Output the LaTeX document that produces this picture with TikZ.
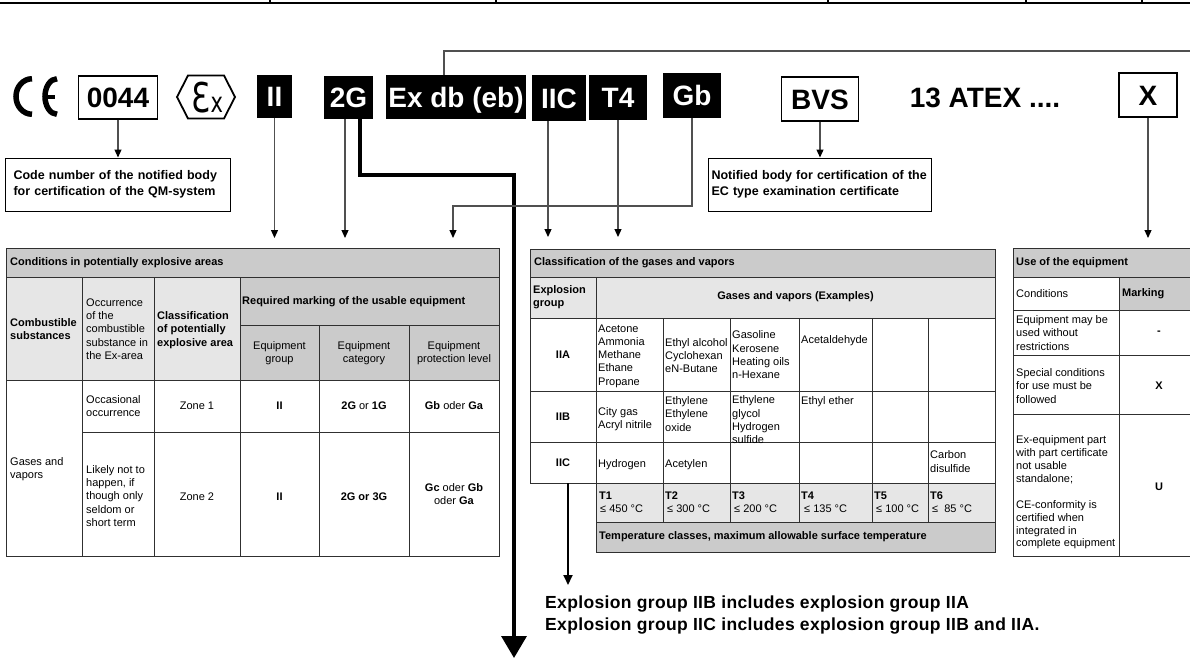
\documentclass[tikz,border=0pt]{standalone}
\usepackage{fontspec}
\setmainfont{Liberation Sans}
\newfontfamily\dejavu{DejaVu Sans}
\newfontfamily\widefont[LetterSpace=2]{Liberation Sans}
\usepackage{graphicx}
\usetikzlibrary{arrows.meta}
\definecolor{hdr}{HTML}{CBCBCB}
\definecolor{lgt}{HTML}{E6E6E6}
\definecolor{bord}{HTML}{303030}
\definecolor{lnk}{HTML}{505050}
\newcommand\tf{\fontsize{11}{13.3}\selectfont}
\newcommand\mf{\fontsize{28}{28}\selectfont\bfseries}
\begin{document}
\begin{tikzpicture}[x=1pt,y=-1pt,
  blk/.style={fill=black,text=white,inner sep=0,font=\mf,text height=20pt,text depth=0pt},
  wbx/.style={draw=black,line width=1.2pt,fill=white,inner sep=0,font=\mf,text height=20pt,text depth=0pt},
  conn/.style={draw=lnk,line width=1.2pt},
  arr/.style={conn,-{Triangle[length=8pt,width=7pt,color=black]}},
  grid/.style={draw=bord,line width=0.9pt},
  cl/.style={anchor=west,align=left,inner sep=0,font=\tf},
  cc/.style={align=center,inner sep=0,font=\tf},
  notebox/.style={draw=black,line width=1pt,minimum height=53pt,inner ysep=0,align=left,font=\fontsize{12.5}{16}\selectfont\bfseries}]
\useasboundingbox (0,0) rectangle (1190,659);
\fill[white] (0,0) rectangle (1190,659);

% top strip
\draw[black,line width=2.2pt] (0,3.2) -- (1190,3.2);
\foreach \xx in {270,496,828,1026,1142} \draw[black,line width=1.6pt] (\xx,0) -- (\xx,3.2);

% CE mark
\draw[line width=5.5pt] (32,114.25) arc[start angle=90,end angle=270,x radius=16,y radius=17.75];
\draw[line width=5.5pt] (57,114.25) arc[start angle=90,end angle=270,x radius=12,y radius=17.75];
\draw[line width=4pt] (46,96.5) -- (55,96.5);

% Ex hexagon
\draw[line width=1.8pt,line join=miter] (177,97) -- (188,75.5) -- (224,75.5) -- (235,97) -- (224,118.5) -- (188,118.5) -- cycle;
\node[inner sep=0] (exs) at (207.5,97.6) {\dejavu\scalebox{0.75}[1]{\fontsize{41}{41}\selectfont Ɛ\fontsize{28}{28}\selectfont x}};

% marking labels
\node[wbx,minimum width=79pt,minimum height=43pt] (n0044) at (118,97.5) {0044};
\node[blk,minimum width=35pt,minimum height=43pt] (nII) at (274.5,96.5) {II};
\node[blk,minimum width=49pt,minimum height=43pt] (n2G) at (348.5,97.5) {2G};
\node[blk,minimum width=140pt,minimum height=44pt] (nEx) at (456,97) {Ex db (eb)};
\node[blk,minimum width=54pt,minimum height=46pt] (nIIC) at (559,98) {IIC};
\node[blk,minimum width=58pt,minimum height=45pt] (nT4) at (618,97.5) {T4};
\node[blk,minimum width=58pt,minimum height=45pt] (nGb) at (692,95.5) {Gb};
\node[wbx,minimum width=77pt,minimum height=44pt] (nBVS) at (820,99) {BVS};
\node[inner sep=0,font=\mf,text height=20pt,text depth=0pt] (nATEX) at (985,97) {13 ATEX ....};
\node[wbx,minimum width=58pt,minimum height=44pt] (nX) at (1148,95) {X};

% note boxes
\node[notebox,text width=209pt,inner xsep=8pt] (code) at (118,184.5) {Code number of the notified body\\for certification of the QM-system};
\node[notebox,text width=217pt,inner xsep=3pt] (nb) at (820,184.5) {Notified body for certification of the\\EC type examination certificate};

% ---------- left table ----------
\fill[hdr] (6,248) rectangle (499,277);
\fill[lgt] (6,277) rectangle (240,380);
\fill[hdr] (240,277) rectangle (499,380);
\draw[grid] (6,248) rectangle (499,556);
\draw[grid] (6,277) -- (499,277) (240,325) -- (499,325) (6,380) -- (499,380) (82,432) -- (499,432);
\draw[grid] (82,277) -- (82,556) (154,277) -- (154,556) (240,277) -- (240,556) (319,325) -- (319,556) (409,325) -- (409,556);

\node[cl,font=\tf\bfseries] (L0) at (10,263) {Conditions in potentially explosive areas};
\node[cl,font=\tf\bfseries] (L1) at (10,329) {Combustible\\substances};
\node[cl] (L2) at (86,329) {Occurrence\\of the\\combustible\\substance in\\the Ex-area};
\node[cl,font=\tf\bfseries] (L3) at (157,330) {Classification\\of potentially\\explosive area};
\node[cl,font=\tf\bfseries] (L4) at (242,302) {Required marking of the usable equipment};
\node[cc] (L5) at (279.5,353) {Equipment\\group};
\node[cc] (L6) at (364,353) {Equipment\\category};
\node[cc] (L7) at (454,353) {Equipment\\protection level};
\node[cl] (L8) at (86,406) {Occasional\\occurrence};
\node[cc] (L9) at (197,406) {Zone 1};
\node[cc,font=\tf\bfseries] (L10) at (279.5,406) {II};
\node[cc] (L11) at (364,406) {\textbf{2G} or \textbf{1G}};
\node[cc] (L12) at (454,406) {\textbf{Gb} oder \textbf{Ga}};
\node[cl] (L13) at (10,469) {Gases and\\vapors};
\node[cl] (L14) at (86,496) {Likely not to\\happen, if\\though only\\seldom or\\short term};
\node[cc] (L15) at (197,497) {Zone 2};
\node[cc,font=\tf\bfseries] (L16) at (279.5,497) {II};
\node[cc,font=\tf\bfseries] (L17) at (364,497) {2G or 3G};
\node[cc] (L18) at (454,494) {\textbf{Gc} oder \textbf{Gb}\\oder \textbf{Ga}};

% ---------- middle table ----------
\fill[hdr] (530,249) rectangle (995,277);
\fill[lgt] (530,277) rectangle (995,318);
\fill[lgt] (596,483) rectangle (995,522);
\fill[hdr] (596,522) rectangle (995,552);
\draw[grid] (530,249) rectangle (995,483);
\draw[grid] (596,483) rectangle (995,552);
\draw[grid] (530,277) -- (995,277) (530,318) -- (995,318) (530,391) -- (995,391) (530,442) -- (995,442) (596,522) -- (995,522);
\draw[grid] (596,277) -- (596,483);
\foreach \xx in {663,730,799,872,928} \draw[grid] (\xx,318) -- (\xx,522);

\node[cl,font=\tf\bfseries] (M0) at (534,263) {Classification of the gases and vapors};
\node[cl,font=\tf\bfseries] (M1) at (533,297.5) {Explosion\\group};
\node[cc,font=\tf\bfseries] (M2) at (795.5,297) {Gases and vapors (Examples)};
\node[cc,font=\tf\bfseries] (M3) at (563,355) {IIA};
\node[cl] (M4) at (598,356) {Acetone\\Ammonia\\Methane\\Ethane\\Propane};
\node[cl] (M5) at (665,355.5) {Ethyl alcohol\\Cyclohexan\\eN-Butane};
\node[cl] (M6) at (732,355) {Gasoline\\Kerosene\\Heating oils\\n-Hexane};
\node[cl] (M7) at (801,341) {Acetaldehyde};
\node[cc,font=\tf\bfseries] (M8) at (563,417) {IIB};
\node[cl] (M9) at (598,419) {City gas\\Acryl nitrile};
\node[cl] (M10) at (665,414) {Ethylene\\Ethylene\\oxide};
\node[cl] (M11) at (732,420) {Ethylene\\glycol\\Hydrogen\\sulfide};
\node[cl] (M12) at (801,402) {Ethyl ether};
\node[cc,font=\tf\bfseries] (M13) at (563,463) {IIC};
\node[cl] (M14) at (598,465) {Hydrogen};
\node[cl] (M15) at (665,465) {Acetylen};
\node[cl] (M16) at (930,461.5) {Carbon\\disulfide};

\node[cl,font=\tf\bfseries] (T1) at (599,496) {T1};
\node[cl] (V1) at (600,509) {≤ 450 °C};
\node[cl,font=\tf\bfseries] (T2) at (665,496) {T2};
\node[cl] (V2) at (667,509) {≤ 300 °C};
\node[cl,font=\tf\bfseries] (T3) at (732,496) {T3};
\node[cl] (V3) at (734,509) {≤ 200 °C};
\node[cl,font=\tf\bfseries] (T4) at (801,496) {T4};
\node[cl] (V4) at (804,509) {≤ 135 °C};
\node[cl,font=\tf\bfseries] (T5) at (874,496) {T5};
\node[cl] (V5) at (876,509) {≤ 100 °C};
\node[cl,font=\tf\bfseries] (T6) at (930,496) {T6};
\node[cl] (V6) at (932,509) {≤\ \ 85 °C};
\node[cl,font=\tf\bfseries] (M17) at (599,537) {Temperature classes, maximum allowable surface temperature};

% ---------- right table ----------
\fill[hdr] (1013,248) rectangle (1192,277);
\fill[hdr] (1119,277) rectangle (1192,310);
\draw[grid] (1013,248) rectangle (1192,556);
\draw[grid] (1013,277) -- (1192,277) (1013,310) -- (1192,310) (1013,355) -- (1192,355) (1013,414) -- (1192,414) (1119,277) -- (1119,556);

\node[cl,font=\tf\bfseries] (R0) at (1016,263) {Use of the equipment};
\node[cl] (R1) at (1016,294) {Conditions};
\node[cl,font=\tf\bfseries] (R2) at (1122,294) {Marking};
\node[cl] (R3) at (1016,333) {Equipment may be\\used without\\restrictions};
\node[cc,font=\tf\bfseries] (R4) at (1159,333) {-};
\node[cl] (R5) at (1016,386) {Special conditions\\for use must be\\followed};
\node[cc,font=\tf\bfseries] (R6) at (1159,386) {X};
\node[cl,font=\fontsize{11}{12.9}\selectfont] (R7) at (1016,492.5) {Ex-equipment part\\with part certificate\\not usable\\standalone;\\[12.9pt]CE-conformity is\\certified when\\integrated in\\complete equipment};
\node[cc,font=\tf\bfseries] (R8) at (1159,487) {U};

% ---------- connectors ----------
\draw[arr] (n0044.south) -- (code.north);
\draw[arr] (nBVS.south) -- (nb.north);
\coordinate (aII) at (274.5,238);
\draw[arr] (nII.south) -- (aII);
\coordinate (a2G) at (345,238);
\draw[arr] (n2G.south -| a2G) -- (a2G);
\coordinate (k1) at (360,175);
\coordinate (k2) at (514,658);
\draw[black,line width=3.5pt,-{Triangle[length=22pt,width=25pt]}] (n2G.south -| k1) |- (k2 |- k1) -- (k2);
\coordinate (e1) at (444,51);
\coordinate (e2) at (1190,51);
\draw[conn] (nEx.north -| e1) -- (e1) -- (e2);
\coordinate (aIIC) at (548,237);
\draw[arr] (nIIC.south -| aIIC) -- (aIIC);
\coordinate (aT4) at (618,237);
\draw[arr] (nT4.south) -- (aT4);
\coordinate (g1) at (692,206);
\coordinate (aGb) at (453,238);
\draw[arr] (nGb.south) -- (g1) -| (aGb);
\coordinate (aX) at (1148,238);
\draw[arr] (nX.south) -- (aX);
\coordinate (c1) at (568,483);
\coordinate (c2) at (568,585);
\draw[black,line width=1.8pt,-{Triangle[length=10pt,width=9pt]}] (c1) -- (c2);

% ---------- bottom notes ----------
\node[anchor=base west,inner sep=0,font=\widefont\bfseries\fontsize{17.5}{17.5}\selectfont] (b1) at (545,608.3) {Explosion group IIB includes explosion group IIA};
\node[anchor=base west,inner sep=0,font=\widefont\bfseries\fontsize{17.5}{17.5}\selectfont] (b2) at (545,630) {Explosion group IIC includes explosion group IIB and IIA.};
\end{tikzpicture}
\end{document}
